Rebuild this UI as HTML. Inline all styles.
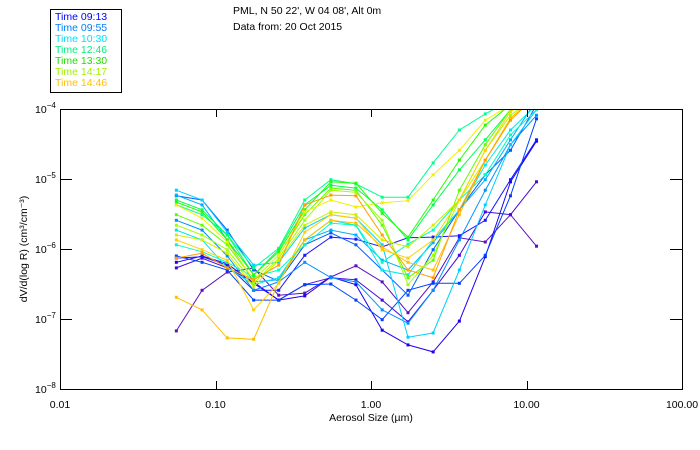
<!DOCTYPE html>
<html><head><meta charset="utf-8"><style>
html,body{margin:0;padding:0;background:#fff;}
svg{display:block;font-family:"Liberation Sans",sans-serif;}
</style></head><body>
<svg id="chart" width="700" height="450" viewBox="0 0 700 450">
<defs><clipPath id="plotclip"><rect x="60" y="109" width="622" height="280"/></clipPath></defs>
<g font-size="10.5" fill="#000">
<text x="233" y="14">PML, N 50 22', W 04 08', Alt 0m</text>
<text x="233" y="30">Data from: 20 Oct 2015</text>
</g>
<g>
<rect x="50.5" y="9.5" width="71" height="83" fill="#fff" stroke="#000"/>
<g id="legend-items" font-size="10.5"></g>
</g>
<g id="series" clip-path="url(#plotclip)"></g>
<g id="axes" stroke="#000" fill="none"></g>
<g id="labels" font-size="10.5" fill="#000"></g>
</svg>
<script>
// Aerosol size bin centres (µm)
const sizes = [0.056,0.082,0.119,0.176,0.255,0.375,0.552,0.80,1.18,1.73,2.51,3.70,5.43,7.89,11.6];
// log10 of dV/d(log R) per series
const s01 = [-7.17,-6.59,-6.33,-6.27,-6.66,-6.63,-6.40,-6.24,-6.47,-6.91,-6.47,-5.84,-5.90,-5.51,-5.96];
const s02 = [-6.27,-6.13,-6.27,-6.47,-6.73,-6.51,-6.41,-6.44,-6.73,-7.04,-6.59,-6.09,-5.47,-5.51,-5.04];
const s03 = [-6.19,-6.10,-6.21,-6.49,-6.73,-6.67,-6.40,-6.51,-7.16,-7.37,-7.47,-7.03,-6.11,-5.04,-4.46];
const s04 = [-6.13,-6.11,-6.23,-6.59,-6.59,-6.09,-5.83,-5.86,-5.97,-5.84,-5.83,-5.81,-5.59,-5.01,-4.44];
const s05 = [-6.10,-6.19,-6.30,-6.73,-6.73,-6.51,-6.50,-6.73,-7.01,-6.59,-6.49,-6.49,-6.09,-5.24,-4.14];
const s06 = [-5.24,-5.30,-5.73,-6.30,-6.46,-5.94,-5.77,-5.94,-6.30,-6.66,-6.01,-5.44,-4.94,-4.59,-3.94];
const s07 = [-5.59,-5.73,-6.10,-6.59,-6.47,-6.19,-6.41,-6.47,-6.87,-7.06,-6.59,-5.87,-5.16,-4.51,-4.09];
const s08 = [-5.23,-5.37,-5.87,-6.47,-6.44,-5.87,-5.73,-5.80,-6.16,-6.30,-5.91,-5.44,-5.01,-4.44,-3.87];
const s09 = [-5.16,-5.30,-5.76,-6.23,-6.19,-5.70,-5.51,-5.56,-5.94,-7.26,-7.20,-6.30,-5.37,-4.51,-4.01];
const s10 = [-5.73,-5.87,-6.27,-6.51,-6.41,-5.87,-5.59,-5.66,-6.30,-6.37,-5.87,-5.44,-4.80,-4.30,-3.94];
const s11 = [-5.94,-6.04,-6.19,-6.40,-6.30,-5.94,-5.63,-5.66,-6.19,-5.93,-5.73,-5.30,-4.94,-4.37,-4.01];
const s12 = [-5.37,-5.51,-5.80,-6.27,-5.99,-5.30,-5.01,-5.07,-5.26,-5.26,-4.77,-4.30,-4.07,-3.87,-3.80];
const s13 = [-5.30,-5.44,-5.80,-6.37,-6.01,-5.37,-5.09,-5.13,-5.44,-5.87,-5.37,-4.87,-4.44,-4.01,-3.80];
const s14 = [-5.33,-5.47,-5.87,-6.37,-6.04,-5.44,-5.04,-5.06,-5.49,-5.83,-5.30,-4.73,-4.23,-3.94,-3.80];
const s15 = [-5.51,-5.66,-5.94,-6.44,-6.09,-5.51,-5.13,-5.16,-5.66,-6.41,-6.16,-5.16,-4.51,-4.01,-3.80];
const s16 = [-5.66,-5.80,-6.01,-6.49,-6.13,-5.59,-5.16,-5.19,-5.59,-6.51,-6.09,-5.30,-4.59,-4.09,-3.80];
const s17 = [-5.80,-5.87,-6.06,-6.54,-6.16,-5.66,-5.47,-5.51,-5.87,-5.97,-5.66,-5.30,-4.73,-4.16,-3.80];
const s18 = [-5.37,-5.56,-5.90,-6.44,-6.09,-5.47,-5.30,-5.40,-5.34,-5.31,-4.94,-4.59,-4.16,-3.94,-3.80];
const s19 = [-6.69,-6.87,-7.27,-7.29,-6.47,-5.87,-5.59,-5.63,-5.97,-6.19,-6.30,-5.51,-4.73,-4.13,-3.80];
const s20 = [-6.13,-6.06,-6.27,-6.44,-6.23,-5.37,-5.23,-5.24,-5.80,-6.30,-6.41,-5.44,-4.73,-4.16,-3.80];
const s21 = [-5.87,-6.01,-6.16,-6.87,-6.49,-5.76,-5.51,-5.56,-6.01,-6.13,-5.87,-5.30,-4.59,-4.04,-3.80];
const seriesList = [s01,s02,s03,s04,s05,s06,s07,s08,s09,s10,s11,s12,s13,s14,s15,s16,s17,s18,s19,s20,s21];
const seriesColors = ["#5a10c0","#4808d8","#2000f0","#1818ff","#0040ff","#0060ff","#0090ff","#00b0ff","#00d0ff","#00e8f0","#00ffc0","#00ff90","#00ff50","#20ff00","#60ff00","#a0ff00","#d0f000","#f0f000","#ffc000","#ffa000","#ffd000"];
const legendLabels = ["Time 09:13","Time 09:55","Time 10:30","Time 12:46","Time 13:30","Time 14:17","Time 14:46"];
const legendColors = ["#0000ff","#0080ff","#00e0ff","#00f080","#20e000","#a0f000","#ffc000"];
const xTicks = [0.01,0.1,1,10,100];
const xTickLabels = ["0.01","0.10","1.00","10.00","100.00"];
const yTickExps = [-8,-7,-6,-5,-4];

const NS = "http://www.w3.org/2000/svg";
const X0 = 60, X1 = 682, Y0 = 389, Y1 = 109;
function xScale(v){ return X0 + (Math.log10(v) + 2) / 4 * (X1 - X0); }
function yScaleLog(e){ return Y0 - (e + 8) / 4 * (Y0 - Y1); }
function mk(tag, attrs, parent){ const el = document.createElementNS(NS, tag); for (const k in attrs) el.setAttribute(k, attrs[k]); parent.appendChild(el); return el; }

const gS = document.getElementById("series");
seriesList.forEach((s, i) => {
  const g = mk("g", {}, gS);
  
  
  const pts = s.map((e, j) => xScale(sizes[j]).toFixed(1) + "," + yScaleLog(e).toFixed(1)).join(" ");
  const pl = mk("polyline", {points: pts, fill: "none", stroke: seriesColors[i], "stroke-width": 1}, g);
  
  
  s.forEach((e, j) => {
    const r = mk("rect", {x: xScale(sizes[j]) - 1.5, y: yScaleLog(e) - 1.5, width: 3, height: 3, fill: seriesColors[i]}, g);
    
    
  });
});

const gA = document.getElementById("axes");
const frame = mk("rect", {x: X0 + 0.5, y: Y1 + 0.5, width: X1 - X0, height: Y0 - Y1, "stroke-width": 1}, gA);


const gL = document.getElementById("labels");
xTicks.forEach((t, i) => {
  const x = Math.round(xScale(t)) + 0.5;
  if (i > 0 && i < xTicks.length - 1) {
    const tb = mk("line", {x1: x, x2: x, y1: Y0, y2: Y0 - 8}, gA);
    
    
    const tt = mk("line", {x1: x, x2: x, y1: Y1, y2: Y1 + 8}, gA);
    
    
  }
  const lb = mk("text", {x: xScale(t), y: 408, "text-anchor": "middle"}, gL);
  lb.textContent = xTickLabels[i];
  
  
});
yTickExps.forEach(e => {
  const y = Math.round(yScaleLog(e)) + 0.5;
  if (e > -8 && e < -4) {
    const tl = mk("line", {x1: X0, x2: X0 + 12, y1: y, y2: y}, gA);
    
    
    const tr = mk("line", {x1: X1 - 12, x2: X1, y1: y, y2: y}, gA);
    
    
  }
  const lb = mk("text", {x: 35, y: yScaleLog(e) + 4}, gL);
  
  
  lb.textContent = "10";
  const sp = mk("tspan", {dy: -5, "font-size": 8}, lb);
  sp.textContent = String(e).replace("-", "\u2212");
});
const xt = mk("text", {x: 371, y: 421, "text-anchor": "middle"}, gL);
xt.textContent = "Aerosol Size (\u00b5m)";


const yt = mk("text", {x: 0, y: 0, "text-anchor": "middle", transform: "translate(27,249) rotate(-90)"}, gL);
yt.textContent = "dV/d(log R) (cm\u00b3/cm\u207b\u00b3)";



const gLeg = document.getElementById("legend-items");
legendLabels.forEach((l, i) => {
  const t = mk("text", {x: 55, y: 20 + i * 11, fill: legendColors[i]}, gLeg);
  t.textContent = l;
  
  
});
</script>
</body></html>
